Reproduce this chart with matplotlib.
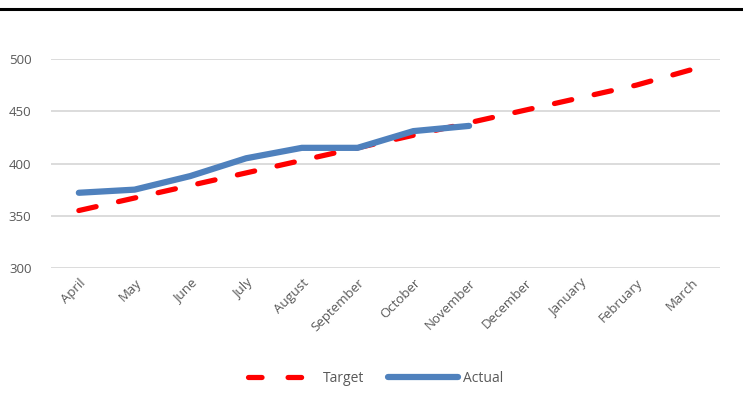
import matplotlib.pyplot as plt
from matplotlib.lines import Line2D

plt.rcParams.update({'font.size': 10, 'font.family': ['Open Sans', 'DejaVu Sans']})

# DATA
months = ['April', 'May', 'June', 'July', 'August', 'September', 'October',
          'November', 'December', 'January', 'February', 'March']
target = [355, 367, 379, 391, 403, 415, 427, 439, 451, 463, 475, 490]
actual = [372, 375, 388, 405, 415, 415, 431, 436]

grey = '#595959'

fig = plt.figure(figsize=(7.43, 4.07), dpi=100)
ax = fig.add_axes([0.0686, 0.3415, 0.9004, 0.5135])

x = list(range(len(months)))
ax.plot(x, target, color='#ff0000', linewidth=3.75, dashes=(3.4, 4.4),
        dash_capstyle='round', solid_capstyle='round', label='Target', zorder=3)
ax.plot(x[:len(actual)], actual, color='#4f81bd', linewidth=4.5,
        solid_capstyle='round', solid_joinstyle='round', label='Actual', zorder=4)

ax.set_xlim(-0.5, len(months) - 0.5)
ax.set_ylim(300, 500)
ax.set_yticks([300, 350, 400, 450, 500])
ax.set_xticks(x)
ax.set_xticklabels(months, rotation=45, ha='right', va='top', rotation_mode='anchor')
ax.tick_params(axis='both', length=0, colors=grey, labelsize=9.5)
ax.tick_params(axis='x', pad=6)
ax.tick_params(axis='y', pad=14)
ax.grid(axis='y', color='#d9d9d9', linewidth=1.3)
ax.set_axisbelow(True)
for s in ax.spines.values():
    s.set_visible(False)

# LEGEND
handles = [Line2D([], [], color='#ff0000', linewidth=3.75, dashes=(2.6, 5.0),
                  dash_capstyle='round'),
           Line2D([], [], color='#4f81bd', linewidth=4.5, solid_capstyle='round')]
leg = fig.legend(handles, ['Target', 'Actual'], loc='center', ncol=2,
                 bbox_to_anchor=(0.506, 1 - 378 / 407), frameon=False,
                 handlelength=5.0, columnspacing=1.7, handletextpad=0.4)
for t in leg.get_texts():
    t.set_color(grey)

# TOP BORDER
fig.add_artist(Line2D([0, 1], [1 - 8.5 / 407] * 2, color='black', linewidth=2.2,
                      transform=fig.transFigure))

plt.savefig('out.png', dpi=100)
